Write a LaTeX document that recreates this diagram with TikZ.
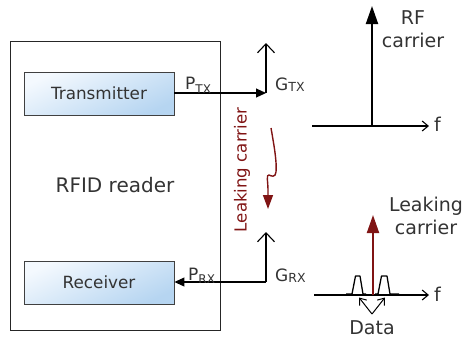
\documentclass[tikz,border=0pt]{standalone}
\usepackage{fontspec}
\setmainfont{DejaVu Sans}
\usetikzlibrary{arrows.meta}
\definecolor{txt}{HTML}{333333}
\definecolor{darkred}{RGB}{128,20,20}
\definecolor{boxtl}{HTML}{F4F9FE}
\definecolor{boxbr}{HTML}{B6D5F1}
\newcommand{\psub}[1]{\raisebox{-3.5pt}{\fontsize{12}{12}\selectfont #1}}
\newcommand{\gsub}[1]{\raisebox{-1pt}{\fontsize{12.5}{12}\selectfont #1}}
\begin{document}
\begin{tikzpicture}[x=1pt,y=-1pt,
  blockbox/.style={draw=black!75, line width=0.9pt, minimum width=150pt, minimum height=43pt,
    top color=boxtl, bottom color=boxbr, shading angle=25, text=txt,
    font=\fontsize{16.8}{19}\selectfont},
  readerbox/.style={draw=black!85, line width=0.8pt, minimum width=210pt, minimum height=289pt,
    text=txt, font=\fontsize{20}{24}\selectfont},
  lbl/.style={anchor=base west, inner sep=0pt, text=txt, font=\fontsize{17}{20}\selectfont},
  rlbl/.style={align=center, inner sep=0pt, text=txt, font=\fontsize{19}{23}\selectfont},
  conn/.style={line width=1.1pt},
  filltip/.style={-{Triangle[length=10pt,width=9pt]}},
  barbtip/.style={-{Straight Barb[length=9pt,width=17pt]}},
  axtip/.style={-{Straight Barb[length=6pt,width=10pt]}},
  bigtip/.style={-{Triangle[length=18pt,width=12pt]}}
]
\useasboundingbox (0,0) rectangle (466,338);

% reader and blocks
\node[readerbox] (reader) at (115,185.5) {RFID reader};
\node[blockbox] (tx) at (99,93.5) {Transmitter};
\node[blockbox] (rx) at (99,282.5) {Receiver};

% antennas
\coordinate (gtx) at (266,93);
\coordinate (gtxtop) at (266,43);
\coordinate (grx) at (266,282);
\coordinate (grxtop) at (266,232);
\draw[conn, filltip] (tx.east |- gtx) -- (gtx);
\draw[conn, barbtip] (gtx) -- (gtxtop);
\draw[conn, barbtip] (grx) -- (grxtop);
\draw[conn, filltip] (grx) -- (rx.east |- grx);

\node[lbl] (ptx) at (185,89.5) {P\psub{TX}};
\node[lbl] (prx) at (188,280) {P\psub{RX}};
\node[lbl] (gtxl) at (275,90) {G\gsub{TX}};
\node[lbl] (grxl) at (275,281) {G\gsub{RX}};

% leaking carrier path
\node[rotate=90, text=darkred, font=\fontsize{16.6}{19}\selectfont] (leak) at (242,170) {Leaking carrier};
\coordinate (wstart) at (271,128);
\coordinate (wend) at (268,209);
\draw[darkred, line width=1.4pt, line join=round, -{Triangle[length=14pt,width=10pt]}]
  (wstart) .. controls (274,145) and (277,162) .. (276,172)
  .. controls (275.5,178) and (271,176) .. (269,175)
  .. controls (266,174) and (268,182) .. (268,190) -- (wend);

% top spectrum
\coordinate (a1s) at (312,126);
\coordinate (a1e) at (429,126);
\coordinate (c1b) at (372,126);
\coordinate (c1t) at (372,6);
\draw[conn, axtip] (a1s) -- (a1e);
\draw[line width=2pt, bigtip] (c1b) -- (c1t);
\node[lbl, font=\fontsize{19}{23}\selectfont] (f1) at (434,131) {f};
\node[rlbl] (rf) at (413,29) {RF\\carrier};

% bottom spectrum
\coordinate (a2s) at (314,295);
\coordinate (a2e) at (429,295);
\coordinate (c2b) at (373,295);
\coordinate (c2t) at (373,215);
\draw[conn, axtip] (a2s) -- (a2e);
\draw[line width=1.3pt, line join=round]
  (346,294) -- (352,294) -- (355.5,276) -- (360,276) -- (363,294) -- (366,294);
\draw[line width=1.3pt, line join=round]
  (375,294) -- (378,294) -- (381.5,276) -- (387,276) -- (390,294) -- (399,294);
\draw[darkred, line width=2pt, bigtip] (c2b) -- (c2t);
\node[lbl, font=\fontsize{19}{23}\selectfont] (f2) at (434,301) {f};
\node[rlbl] (leak2) at (426,216) {Leaking\\carrier};

\node[rlbl, anchor=base] (data) at (372,334) {Data};
\coordinate (dsrc) at (372,314);
\coordinate (d1) at (359,297.5);
\coordinate (d2) at (385,297.5);
\draw[line width=1pt, -{Straight Barb[length=6pt,width=9pt]}] (dsrc) -- (d1);
\draw[line width=1pt, -{Straight Barb[length=6pt,width=9pt]}] (dsrc) -- (d2);
\end{tikzpicture}
\end{document}
